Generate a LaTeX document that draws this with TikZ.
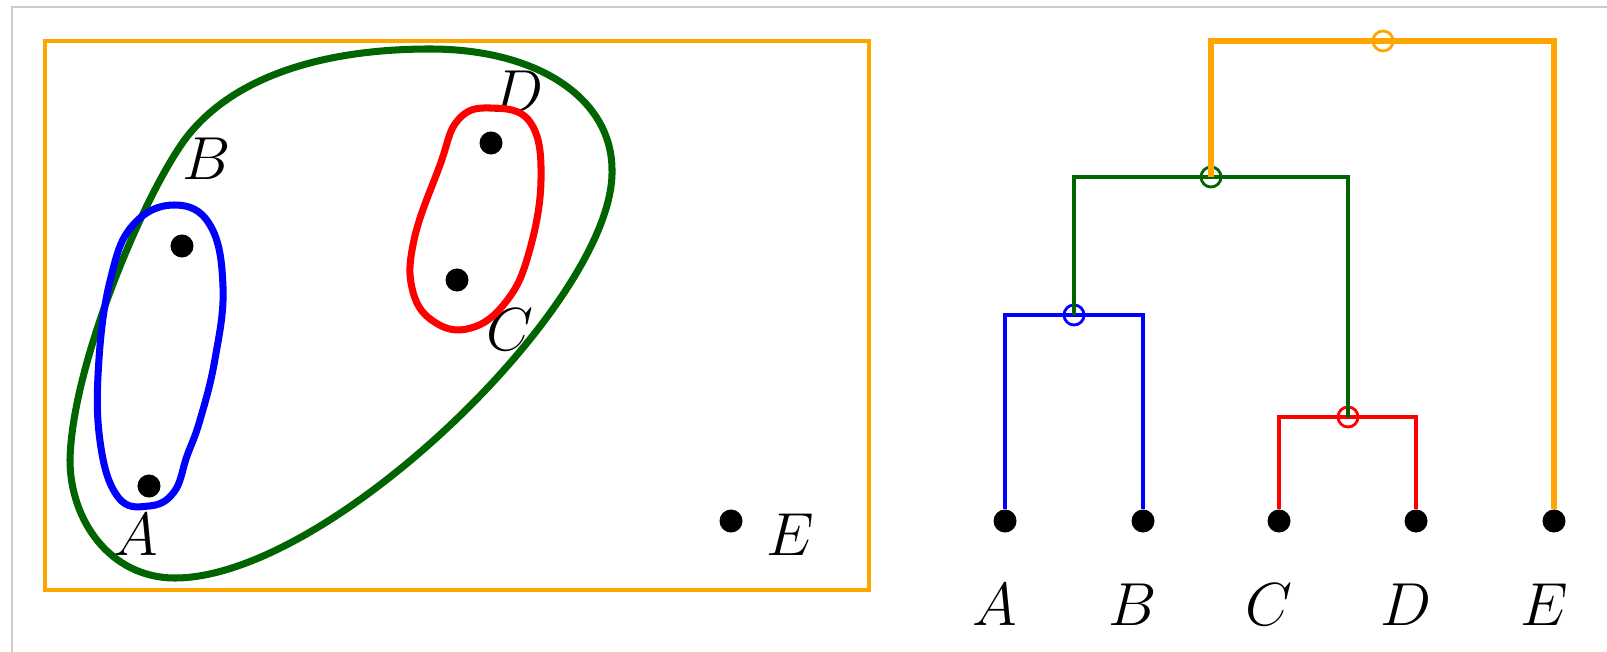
\documentclass[tikz,border=0pt]{standalone}
\usetikzlibrary{positioning}
\definecolor{clOrange}{HTML}{FFA500}
\definecolor{clGreen}{HTML}{006400}
\definecolor{clBlue}{HTML}{0000FF}
\definecolor{clRed}{HTML}{FF0000}
\tikzset{
  dot/.style={circle, fill=black, minimum size=0.23cm, inner sep=0pt},
  lbl/.style={inner sep=0pt, font=\fontsize{18}{21}\selectfont},
  loop/.style={line width=2pt},
  merge/.style={circle, draw, line width=0.8pt, minimum size=0.2cm, inner sep=0pt, fill=none},
  link/.style={line width=0.9pt}
}
\begin{document}
\begin{tikzpicture}[x=0.01cm, y=-0.01cm]
  \useasboundingbox (0,0) rectangle (1607,652);
  % screenshot frame
  \draw[black!20, line width=0.5pt] (12,652) -- (12,7) -- (1607,7);

  % left panel: points and clusters
  \draw[clOrange, line width=0.9pt] (45,41) rectangle (869,590);
  \node[dot] (pA) at (149,486) {};
  \node[dot] (pB) at (182,246) {};
  \node[dot] (pC) at (457,280) {};
  \node[dot] (pD) at (491,143) {};
  \node[dot] (pE) at (731,521) {};
  \node[lbl] (nA) at (136,535) {$A$};
  \node[lbl] (nB) at (207,159) {$B$};
  \node[lbl] (nC) at (510,330) {$C$};
  \node[lbl] (nD) at (518,92) {$D$};
  \node[lbl] (nE) at (790,535) {$E$};

  \draw[clGreen, loop] (430,49) .. controls (540,49) and (612,100) .. (612,170)
    .. controls (615,300) and (330,578) .. (175,578)
    .. controls (110,578) and (70,520) .. (70,460)
    .. controls (72,360) and (150,181) .. (190,133)
    .. controls (240,73) and (330,49) .. cycle;
  \draw[clBlue, loop] plot[smooth cycle, tension=0.7] coordinates {
    (174,205) (210,225) (223,287) (215,359) (200,420) (187,456)
    (174,492) (149,506) (118,497) (100,441) (99,359) (111,277) (133,225)};
  \draw[clRed, loop] plot[smooth cycle, tension=0.7] coordinates {
    (490,108) (530,122) (541,180) (528,256) (505,303)
    (471,328) (436,323) (413,292) (414,240) (440,165) (458,120)};

  % right panel: dendrogram
  \foreach \n/\x in {A/1005, B/1143, C/1279, D/1416, E/1554} {
    \node[dot] (l\n) at (\x,521) {};
    \node[lbl, below=0.5cm of l\n, xshift=-0.1cm] (t\n) {$\n$};
  }
  \node[merge, draw=clBlue] (mAB) at (1074,315) {};
  \node[merge, draw=clRed] (mCD) at (1348,417) {};
  \node[merge, draw=clGreen] (mAD) at (1211,177) {};
  \node[merge, draw=clOrange] (mAE) at (1383,41) {};

  \draw[link, clBlue] (lA) |- (mAB.center) -| (lB);
  \draw[link, clRed] (lC) |- (mCD.center) -| (lD);
  \draw[link, clGreen] (mAB.center) |- (mAD.center) -| (mCD.center);
  \draw[clOrange, line width=1.8pt] (mAD.center) |- (mAE.center) -| (lE);
\end{tikzpicture}
\end{document}
